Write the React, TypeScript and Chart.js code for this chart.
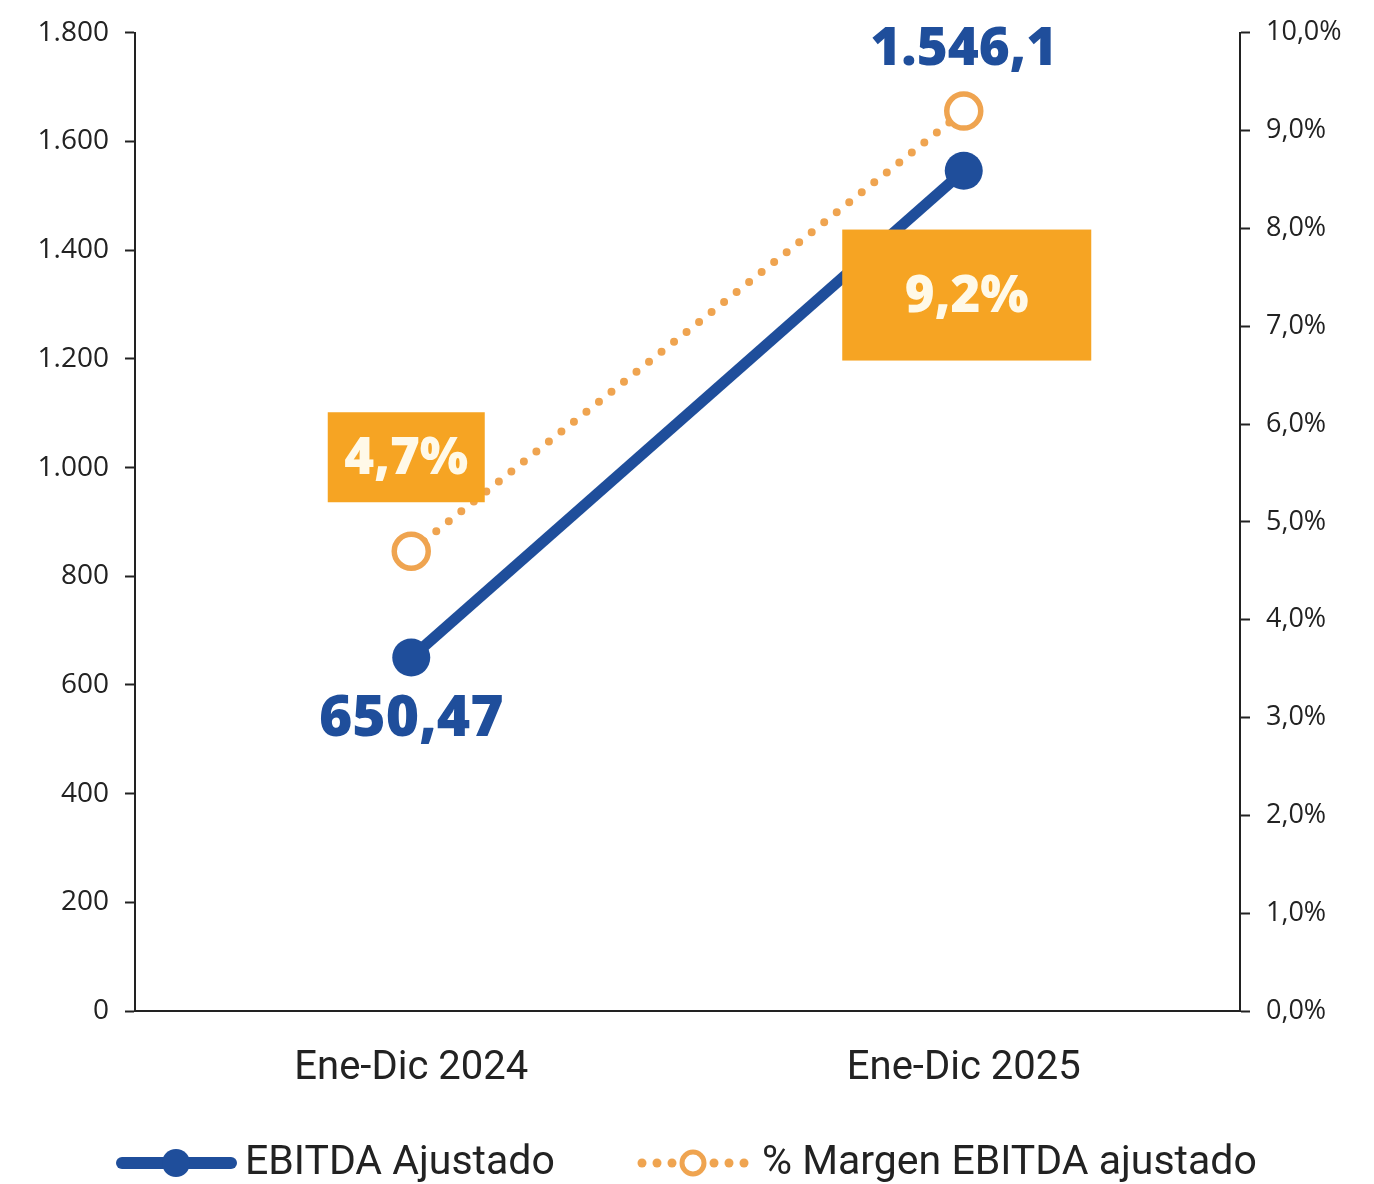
import React, { useEffect, useRef } from "react";
import { Chart, registerables } from "chart.js";

Chart.register(...registerables);

const categories = ["Ene-Dic 2024", "Ene-Dic 2025"];
const ebitda = [650.47, 1546.1];
const margin = [4.7, 9.2];
const ebitdaLabels = ["650,47", "1.546,1"];
const marginLabels = ["4,7%", "9,2%"];
const seriesNames = ["EBITDA Ajustado", "% Margen EBITDA ajustado"];
const leftAxis = { min: 0, max: 1800, step: 200 };
const rightAxis = { min: 0, max: 10, step: 1 };

const BLUE = "#1f4e9b";
const ORANGE_LINE = "#efa450";
const ORANGE_BOX = "#f6a423";
const BOX_TEXT = "#fff9e8";
const INK = "#222222";

const fmtThousands = (v: number) =>
  String(Math.round(v)).replace(/\B(?=(\d{3})+(?!\d))/g, ".");
const fmtPct = (v: number) => v.toFixed(1).replace(".", ",") + "%";

const labelPlugin = {
  id: "valueLabels",
  afterDatasetsDraw(chart: any) {
    const ctx = chart.ctx;
    const m0 = chart.getDatasetMeta(0);
    const m1 = chart.getDatasetMeta(1);
    ctx.save();
    ctx.fillStyle = BLUE;
    ctx.textAlign = "center";
    ctx.textBaseline = "middle";
    const eOff = [62, -121];
    const eSize = [57, 53];
    m0.data.forEach((pt: any, i: number) => {
      ctx.font = `800 ${eSize[i]}px 'Open Sans'`;
      ctx.fillText(ebitdaLabels[i], pt.x, pt.y + eOff[i]);
    });
    const boxes = [
      { dx: -5, dy: -94, w: 157, h: 90 },
      { dx: 3, dy: 184, w: 249, h: 131 },
    ];
    ctx.font = "800 51px 'Open Sans'";
    m1.data.forEach((pt: any, i: number) => {
      const b = boxes[i];
      const cx = pt.x + b.dx;
      const cy = pt.y + b.dy;
      ctx.fillStyle = ORANGE_BOX;
      ctx.fillRect(cx - b.w / 2, cy - b.h / 2, b.w, b.h);
      ctx.fillStyle = BOX_TEXT;
      ctx.fillText(marginLabels[i], cx, cy + 2);
    });
    ctx.restore();
  },
};

const legendPlugin = {
  id: "customLegend",
  afterDraw(chart: any) {
    const ctx = chart.ctx;
    const y = 1163;
    ctx.save();
    ctx.strokeStyle = BLUE;
    ctx.lineWidth = 12;
    ctx.lineCap = "round";
    ctx.beginPath();
    ctx.moveTo(122, y);
    ctx.lineTo(231, y);
    ctx.stroke();
    ctx.fillStyle = BLUE;
    ctx.beginPath();
    ctx.arc(176, y, 14, 0, Math.PI * 2);
    ctx.fill();
    ctx.fillStyle = ORANGE_LINE;
    [642, 657, 672, 714, 729, 744].forEach((x) => {
      ctx.beginPath();
      ctx.arc(x, y, 4.5, 0, Math.PI * 2);
      ctx.fill();
    });
    ctx.strokeStyle = ORANGE_LINE;
    ctx.lineWidth = 5;
    ctx.fillStyle = "#ffffff";
    ctx.beginPath();
    ctx.arc(693, y, 11, 0, Math.PI * 2);
    ctx.fill();
    ctx.stroke();
    ctx.fillStyle = INK;
    ctx.font = "41px Roboto";
    ctx.textAlign = "left";
    ctx.textBaseline = "middle";
    ctx.fillText(seriesNames[0], 245, y + 1);
    ctx.fillText(seriesNames[1], 762, y + 1);
    ctx.restore();
  },
};

export default function App() {
  const ref = useRef<HTMLCanvasElement | null>(null);
  useEffect(() => {
    if (!ref.current) return;
    const chart = new Chart(ref.current, {
      type: "line",
      data: {
        labels: categories,
        datasets: [
          {
            label: seriesNames[0],
            data: ebitda,
            yAxisID: "y",
            borderColor: BLUE,
            backgroundColor: BLUE,
            borderWidth: 11,
            pointRadius: 19,
            pointBorderWidth: 0,
            pointBackgroundColor: BLUE,
            pointHoverRadius: 19,
          },
          {
            label: seriesNames[1],
            data: margin,
            yAxisID: "y1",
            borderColor: ORANGE_LINE,
            borderWidth: 8,
            borderDash: [0, 16],
            borderCapStyle: "round",
            pointRadius: 17,
            pointBorderWidth: 5.5,
            pointBorderColor: ORANGE_LINE,
            pointBackgroundColor: "#ffffff",
            pointHoverRadius: 17,
          },
        ],
      },
      options: {
        animation: false,
        responsive: true,
        maintainAspectRatio: false,
        layout: { padding: { top: 30, bottom: 0, left: 0, right: 0 } },
        plugins: {
          legend: { display: false },
          tooltip: { enabled: false },
        },
        scales: {
          x: {
            offset: true,
            grid: { display: true, drawOnChartArea: false, drawTicks: false },
            border: { display: true, color: INK, width: 2 },
            ticks: {
              color: INK,
              font: { family: "Roboto", size: 40 },
              padding: 34,
            },
            afterFit: (s: any) => {
              s.height = 173;
            },
          },
          y: {
            position: "left",
            min: leftAxis.min,
            max: leftAxis.max,
            grid: {
              drawOnChartArea: false,
              tickLength: 10,
              tickColor: INK,
              tickWidth: 2,
            },
            border: { display: true, color: INK, width: 2 },
            ticks: {
              stepSize: leftAxis.step,
              color: INK,
              font: { family: "'Open Sans'", size: 28 },
              padding: 16,
              callback: (v: any) => fmtThousands(Number(v)),
            },
            afterFit: (s: any) => {
              s.width = 135;
            },
          },
          y1: {
            position: "right",
            min: rightAxis.min,
            max: rightAxis.max,
            grid: {
              drawOnChartArea: false,
              tickLength: 10,
              tickColor: INK,
              tickWidth: 2,
            },
            border: { display: true, color: INK, width: 2 },
            ticks: {
              stepSize: rightAxis.step,
              color: INK,
              font: { family: "'Open Sans'", size: 27 },
              padding: 16,
              callback: (v: any) => fmtPct(Number(v)),
            },
            afterFit: (s: any) => {
              s.width = 134;
            },
          },
        },
      },
      plugins: [labelPlugin, legendPlugin],
    } as any);
    return () => chart.destroy();
  }, []);
  return (
    <div
      style={{
        position: "absolute",
        left: 0,
        top: 0,
        width: 1374,
        height: 1184,
        background: "#ffffff",
      }}
    >
      <canvas ref={ref} />
    </div>
  );
}
